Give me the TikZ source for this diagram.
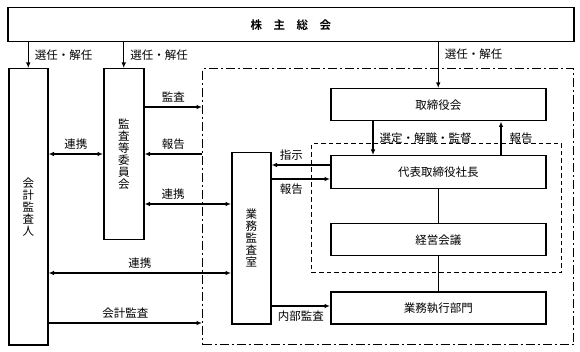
\documentclass[tikz,border=0pt]{standalone}
\usepackage{fontspec}
\setmainfont{Noto Sans CJK JP}[BoldFont={Noto Sans CJK JP Bold}]
\usetikzlibrary{arrows.meta,calc}
\begin{document}
\begin{tikzpicture}[x=1pt,y=-1pt,
  box/.style={draw, line width=1.5pt, inner sep=0pt, anchor=north west, align=center,
    font=\fontsize{11.5}{12}\selectfont},
  vbox/.style={box, font=\fontsize{11.5}{12}\selectfont},
  conn/.style={line width=1.1pt},
  arr/.style={conn, -{Latex[length=5.5pt,width=4.5pt]}},
  dbl/.style={conn, {Latex[length=5.5pt,width=4.5pt]}-{Latex[length=5.5pt,width=4.5pt]}},
  lbl/.style={font=\fontsize{11.5}{12}\selectfont, inner sep=0pt},
  frameA/.style={draw, line width=1.4pt, dash pattern=on 9pt off 3pt on 2pt off 3pt,
    anchor=north west, inner sep=0pt},
  frameB/.style={draw, line width=1.4pt, dash pattern=on 4.5pt off 3pt,
    anchor=north west, inner sep=0pt}]
\useasboundingbox (0,0) rectangle (580,352);

% frames
\node[frameA, minimum width=371pt, minimum height=276pt] (org) at (202,68) {};
\node[frameB, minimum width=250pt, minimum height=129pt] (exec) at (311,143) {};

% boxes
\node[box, minimum width=566pt, minimum height=34pt] (sh) at (7,7) {\textbf{株\quad 主\quad 総\quad 会}};
\node[vbox, minimum width=39pt, minimum height=276pt] (kaikei) at (8,68) {会\\計\\監\\査\\人};
\node[vbox, minimum width=40pt, minimum height=171pt] (kansa) at (103,68) {監\\査\\等\\委\\員\\会};
\node[vbox, minimum width=39pt, minimum height=171pt] (gyomu) at (231,152) {業\\務\\監\\査\\室};
\node[box, minimum width=215pt, minimum height=32pt] (tori) at (330,88) {取締役会};
\node[box, minimum width=215pt, minimum height=33pt] (daihyo) at (330,155) {代表取締役社長};
\node[box, minimum width=215pt, minimum height=32pt] (keiei) at (330,223) {経営会議};
\node[box, minimum width=215pt, minimum height=32pt] (shikko) at (330,291) {業務執行部門};

% shareholders
\draw[arr] (sh.south -| kaikei.north) -- node[lbl, right=6pt] {選任・解任} (kaikei.north);
\draw[arr] (sh.south -| kansa.north) -- node[lbl, right=6pt] {選任・解任} (kansa.north);
\draw[arr] (sh.south -| tori.north) -- node[lbl, right=6pt, pos=0.26] {選任・解任} (tori.north);

% audit committee
\draw[arr] (kansa.east |- 0,107) -- node[lbl, above=4pt] {監査} (org.west |- 0,107);
\draw[arr] (org.west |- 0,154) -- node[lbl, above=4pt] {報告} (kansa.east |- 0,154);
\draw[dbl] (kaikei.east |- 0,154) -- node[lbl, above=4pt] {連携} (kansa.west |- 0,154);
\draw[dbl] (kansa.east |- 0,204) -- node[lbl, above=4pt, pos=0.33] {連携} (gyomu.west |- 0,204);
\draw[dbl] (kaikei.east |- 0,273) -- node[lbl, above=4pt] {連携} (gyomu.west |- 0,273);
\draw[arr] (kaikei.east |- 0,323) -- node[lbl, above=4pt] {会計監査} (org.west |- 0,323);

% internal audit office
\draw[arr] (daihyo.west |- 0,165) -- node[lbl, above=4pt, pos=0.66] {指示} (gyomu.east |- 0,165);
\draw[arr] (gyomu.east |- 0,179) -- node[lbl, below=4pt, pos=0.34] {報告} (daihyo.west |- 0,179);
\draw[arr] (gyomu.east |- 0,306) -- node[lbl, below=4pt] {内部監査} (shikko.west |- 0,306);

% board
\draw[arr] (tori.south -| 373,0) -- node[lbl, right=6pt] {選定・解職・監督} (daihyo.north -| 373,0);
\draw[arr] (daihyo.north -| 501,0) -- node[lbl, right=8pt] {報告} (tori.south -| 501,0);
\draw[conn] (daihyo) -- (keiei);
\draw[conn] (keiei) -- (shikko);
\end{tikzpicture}
\end{document}
